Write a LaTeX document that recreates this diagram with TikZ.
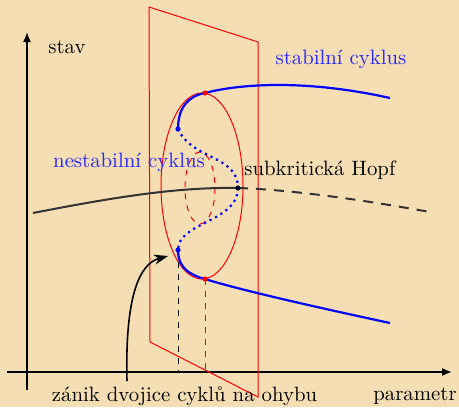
\documentclass[tikz,border=0pt]{standalone}
\usetikzlibrary{arrows.meta}
\definecolor{bg}{HTML}{F5DEB3}
\tikzset{
  axis/.style={line width=0.8pt,-{Latex[length=5pt,width=4pt]}},
  plane/.style={red,line width=0.5pt},
  stab/.style={blue,line width=1.1pt},
  unstab/.style={blue,line width=1.1pt,dotted},
  eq/.style={black!80,line width=1pt},
  dotpt/.style={circle,fill,inner sep=0pt,minimum size=2.6pt},
  lbl/.style={inner sep=0pt,font=\fontsize{10.4}{12}\selectfont},
  bluelbl/.style={lbl,text=blue!85},
}
\begin{document}
\begin{tikzpicture}[x=0.5pt,y=-0.5pt]
\fill[bg] (0,0) rectangle (459,407);
\useasboundingbox (0,0) rectangle (459,407);
% axes
\coordinate (ya) at (27,390);
\coordinate (yb) at (27,32);
\coordinate (xa) at (7,372);
\coordinate (xb) at (452,372);
\draw[axis] (ya) -- (yb);
\draw[axis] (xa) -- (xb);
% plane
\coordinate (p1) at (149,7);
\coordinate (p2) at (258,42);
\coordinate (p3) at (258,397);
\coordinate (p4) at (150,342);
\draw[plane] (p1) -- (p2) -- (p3) -- (p4) -- cycle;
% ellipses
\coordinate (ec) at (202,186);
\draw[plane] (ec) ellipse [x radius=41, y radius=93];
\coordinate (dc) at (200,188);
\draw[plane,dashed] (dc) ellipse [x radius=15, y radius=36];
% points
\coordinate (U) at (178,129);
\coordinate (T) at (205,93);
\coordinate (L) at (178,250);
\coordinate (B) at (205,279);
\coordinate (H) at (238,188);
\coordinate (UE) at (390,98);
\coordinate (LE) at (390,323);
\coordinate (E0) at (33,213);
\coordinate (E1) at (430,212);
% equilibrium branch
\draw[eq] (E0) .. controls (120,196) and (180,187) .. (H);
\draw[eq,dashed,dash pattern=on 5pt off 4pt] (H) .. controls (300,190) and (380,203) .. (E1);
% vertical dashed
\draw[black,dashed,line width=0.5pt] (L) -- (L |- xa);
\draw[red,dashed,line width=0.5pt] (B) -- (B |- xa);
% cycles
\draw[stab] (U) .. controls (178,108) and (188,96) .. (T) .. controls (235,85) and (300,78) .. (UE);
\draw[stab] (L) .. controls (178,268) and (190,275) .. (B) .. controls (240,290) and (320,308) .. (LE);
\draw[unstab] (U) .. controls (192,160) and (238,155) .. (H);
\draw[unstab] (H) .. controls (238,222) and (178,222) .. (L);
% dots
\node[dotpt,blue] (nU) at (U) {};
\node[dotpt,blue] (nL) at (L) {};
\node[dotpt,red] (nT) at (T) {};
\node[dotpt,red] (nB) at (B) {};
\node[dotpt,black!85!blue] (nH) at (H) {};
% arrow
\coordinate (A0) at (127,381);
\draw[line width=0.8pt,-{Stealth[length=7pt,width=5pt]}] (A0) .. controls (125,300) and (138,264) .. (168,256);
% labels
\node[lbl] (lstav) at (67,47) {stav};
\node[lbl] (lpar) at (415,396) {parametr};
\node[lbl] (lzan) at (184.5,396) {zánik dvojice cyklů na ohybu};
\node[bluelbl] (lst) at (341,59) {stabilní cyklus};
\node[bluelbl] (lnst) at (129,162) {nestabilní cyklus};
\node[lbl,anchor=west] (lhopf) at (244,170) {subkritická Hopf};
\end{tikzpicture}
\end{document}
